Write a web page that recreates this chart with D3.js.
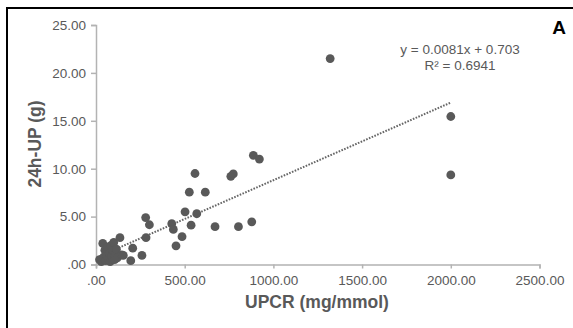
<!DOCTYPE html>
<html>
<head>
<meta charset="utf-8">
<script src="https://cdn.jsdelivr.net/npm/d3@7"></script>
<style>
  body { margin: 0; background: #fff; }
  text { font-family: "Liberation Sans", Arial, sans-serif; }
</style>
</head>
<body>
<script>
(function() {

    var width = 573;
    var height = 328;

    // UPCR (mg/mmol) values
    const upcr = [20, 30, 38, 45, 50, 55, 60, 65, 70, 75, 80, 85, 90, 95, 100, 105, 110, 115, 120, 135, 145, 154,
        196, 207, 259, 280, 282, 301, 427, 436, 451, 485, 502, 526, 536, 558, 568, 616, 671, 760, 774, 803,
        878, 887, 921, 1320, 2000, 2000];
    // 24h-UP (g) values
    const up24 = [0.5, 0.3, 2.2, 0.8, 1.5, 0.4, 1.0, 1.8, 0.6, 1.2, 0.3, 2.0, 0.9, 1.5, 2.3, 0.5, 1.1, 1.6, 0.7, 2.8, 1.0, 0.95,
        0.4, 1.7, 0.95, 4.9, 2.8, 4.15, 4.26, 3.66, 1.95, 2.9, 5.5, 7.55, 4.1, 9.5, 5.3, 7.55, 3.95, 9.2, 9.45, 3.95,
        4.45, 11.4, 11.0, 21.5, 15.45, 9.35];

    const xTicks = [0, 500, 1000, 1500, 2000, 2500];
    const yTicks = [0, 5, 10, 15, 20, 25];

    // trendline from the chart
    const slope = 0.0081;
    const intercept = 0.703;
    const equation = ["y = 0.0081x + 0.703", "R\u00b2 = 0.6941"];

    const points = upcr.map((d, i) => ({x: d, y: up24[i]}));

    const svg = d3.select("body")
      .append("svg")
      .attr("width", width)
      .attr("height", height);

    //outer frame
    svg.append("rect")
        .attr("x", 7)
        .attr("y", 8)
        .attr("width", 600)
        .attr("height", 340)
        .attr("fill", "none")
        .attr("stroke", "#000")
        .attr("stroke-width", 2);

    const x = d3.scaleLinear().domain([0, 2500]).range([96, 539.5]);
    const y = d3.scaleLinear().domain([0, 25]).range([264.5, 25]);

    const fmt = d => d === 0 ? ".00" : d.toFixed(2);

    //axes
    const xAxis = svg.append("g")
        .attr("transform", "translate(0," + y(0) + ")")
        .call(d3.axisBottom(x).tickValues(xTicks).tickFormat(fmt).tickSize(4).tickPadding(7));
    const yAxis = svg.append("g")
        .attr("transform", "translate(" + x(0) + ",0)")
        .call(d3.axisLeft(y).tickValues(yTicks).tickFormat(fmt).tickSize(5).tickPadding(5));

    [xAxis, yAxis].forEach(g => {
        g.select(".domain").attr("stroke", "#b3b3b3").attr("stroke-width", 1.5);
        g.selectAll(".tick line").attr("stroke", "#b3b3b3").attr("stroke-width", 1.5);
        g.selectAll(".tick text")
            .attr("fill", "#595959")
            .style("font-size", "13.5px")
            .style("font-family", "'Liberation Sans', Arial, sans-serif");
    });

    //axis titles
    svg.append("text")
        .attr("x", 317)
        .attr("y", 308)
        .attr("text-anchor", "middle")
        .attr("fill", "#595959")
        .style("font-size", "17.5px")
        .style("font-weight", "bold")
        .text("UPCR (mg/mmol)");

    svg.append("text")
        .attr("transform", "translate(41,144) rotate(-90)")
        .attr("text-anchor", "middle")
        .attr("fill", "#595959")
        .style("font-size", "17.5px")
        .style("font-weight", "bold")
        .text("24h-UP (g)");

    //trendline
    const xMin = d3.min(upcr), xMax = d3.max(upcr);
    svg.append("line")
        .attr("x1", x(xMin))
        .attr("y1", y(slope * xMin + intercept))
        .attr("x2", x(xMax))
        .attr("y2", y(slope * xMax + intercept))
        .attr("stroke", "#666")
        .attr("stroke-width", 2)
        .attr("stroke-dasharray", "1.6 1.4");

    //points
    svg.selectAll("circle")
        .data(points)
        .enter()
        .append("circle")
        .attr("cx", d => x(d.x))
        .attr("cy", d => y(d.y))
        .attr("r", 4.4)
        .style("fill", "#595959");

    //equation
    svg.selectAll(".eq")
        .data(equation)
        .enter()
        .append("text")
        .attr("class", "eq")
        .attr("x", 460)
        .attr("y", (d, i) => 54 + i * 16)
        .attr("text-anchor", "middle")
        .attr("fill", "#595959")
        .style("font-size", "13.5px")
        .text(d => d);

    //panel label
    svg.append("text")
        .attr("x", 559)
        .attr("y", 34)
        .attr("text-anchor", "middle")
        .attr("fill", "#000")
        .style("font-size", "19px")
        .style("font-weight", "bold")
        .text("A");

})();
</script>
</body>
</html>
